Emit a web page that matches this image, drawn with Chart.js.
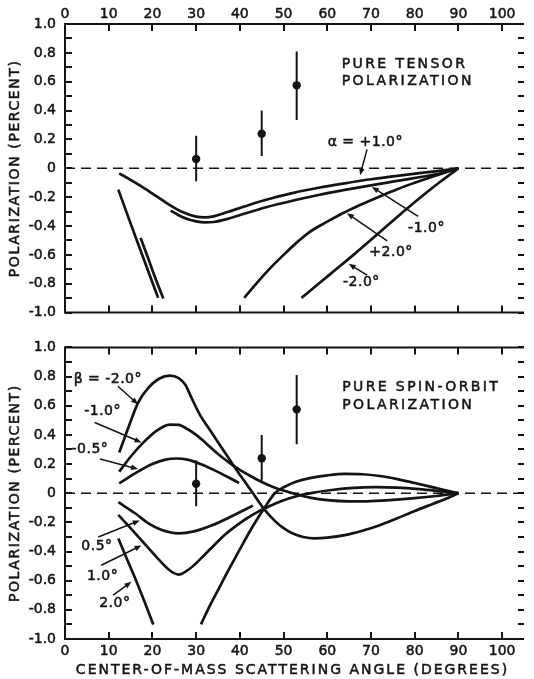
<!DOCTYPE html>
<html lang="en">
<head>
<meta charset="UTF-8" />
<title>Polarization vs center-of-mass scattering angle</title>
<script src="https://cdn.jsdelivr.net/npm/chart.js"></script>
<style>
  html,body{margin:0;padding:0;background:#fff;}
  .panel{position:absolute;left:0;width:534px;}
  #top{top:0;height:330px;}
  #bottom{top:330px;height:349px;}
</style>
</head>
<body>
<div class="panel" id="top"><canvas id="tensorChart" width="534" height="330"></canvas></div>
<div class="panel" id="bottom"><canvas id="spinChart" width="534" height="349"></canvas></div>

<script>
/* ---------- axes ---------- */
const xTicks = [0,10,20,30,40,50,60,70,80,90,100];
const yTicks = [-1.0,-0.9,-0.8,-0.7,-0.6,-0.5,-0.4,-0.3,-0.2,-0.1,0,0.1,0.2,0.3,0.4,0.5,0.6,0.7,0.8,0.9,1.0];
const zeroLineX = [0,105];

/* ---------- measured points (same in both panels) ---------- */
const dataAngle = [30,45,53];
const dataPol   = [0.065,0.24,0.575];
const dataHigh  = [0.225,0.40,0.81];
const dataLow   = [-0.09,0.085,0.335];

/* ---------- pure tensor curves [angle, polarization] ---------- */
const tensAlphaP1 = [[12.4,-0.035],[15,-0.08],[18,-0.135],[21,-0.195],[24,-0.255],[27,-0.305],[30,-0.335],[32,-0.34],[34,-0.333],[37,-0.305],[41,-0.265],[46,-0.218],[52,-0.172],[58,-0.135],[64,-0.104],[70,-0.076],[76,-0.052],[82,-0.03],[86,-0.016],[90,0]];
const tensAlphaM1 = [[24.2,-0.293],[26,-0.325],[28,-0.352],[30,-0.368],[32,-0.375],[34,-0.372],[37,-0.352],[41,-0.315],[46,-0.27],[52,-0.225],[58,-0.185],[64,-0.15],[70,-0.118],[76,-0.087],[82,-0.057],[86,-0.035],[90,0]];
const tensAlphaP2 = [[41,-0.898],[44,-0.79],[47,-0.69],[50,-0.6],[53,-0.515],[56,-0.44],[60,-0.37],[64,-0.305],[68,-0.248],[72,-0.195],[76,-0.145],[80,-0.1],[84,-0.058],[87,-0.028],[90,0]];
const tensAlphaM2 = [[54.1,-0.898],[58,-0.8],[62,-0.7],[66,-0.6],[70,-0.495],[74,-0.39],[78,-0.285],[82,-0.185],[86,-0.09],[90,0]];
const tensLeftA   = [[12.2,-0.148],[14.5,-0.34],[16.8,-0.53],[19,-0.71],[21.3,-0.898]];
const tensLeftB   = [[17.3,-0.482],[19.1,-0.63],[20.9,-0.78],[22.5,-0.902]];

/* ---------- pure spin-orbit curves [angle, polarization] ---------- */
const spinM2  = [[12.4,0.279],[14.5,0.45],[16.7,0.62],[19,0.72],[21.5,0.785],[24,0.807],[26,0.79],[27.5,0.745],[29,0.65],[31,0.53],[33,0.44],[35,0.35],[37,0.26],[39,0.17],[41,0.085],[43,0.0],[45.5,-0.107],[48,-0.19],[50,-0.24],[52,-0.275],[54.5,-0.3],[57,-0.31],[60,-0.305],[64,-0.288],[68,-0.258],[72,-0.22],[76,-0.172],[80,-0.122],[84,-0.075],[87,-0.04],[90,0]];
const spinM1  = [[12.4,0.147],[15,0.25],[18,0.35],[21,0.43],[24,0.47],[26,0.468],[28,0.44],[30,0.4],[32,0.35],[34,0.295],[36,0.245],[38,0.2],[40,0.16],[42,0.125],[44,0.092],[46,0.063],[48,0.038],[50,0.018],[53,-0.008],[56,-0.03],[60,-0.048],[65,-0.056],[70,-0.054],[75,-0.046],[80,-0.034],[85,-0.019],[90,0]];
const spinM05 = [[12.4,0.068],[16.2,0.139],[20,0.2],[23,0.23],[25.5,0.238],[28,0.23],[31,0.2],[34,0.16],[37,0.115],[39.8,0.07]];
const spinP05 = [[12.2,-0.062],[16.2,-0.141],[19,-0.205],[22,-0.25],[26,-0.275],[29.5,-0.262],[33.5,-0.222],[38,-0.16],[43,-0.085]];
const spinP1  = [[12.2,-0.149],[15,-0.24],[18,-0.34],[21,-0.44],[24,-0.53],[26,-0.558],[28,-0.53],[30,-0.48],[32,-0.42],[34,-0.36],[36,-0.3],[38,-0.25],[40,-0.205],[42,-0.165],[44,-0.13],[45.5,-0.107],[48,-0.072],[51,-0.038],[54,-0.012],[57,0.005],[61,0.022],[66,0.036],[71,0.041],[76,0.038],[81,0.028],[86,0.013],[90,0]];
const spinP2L = [[12.2,-0.31],[14,-0.44],[16.3,-0.602],[18.2,-0.745],[20.2,-0.901]];
const spinP2R = [[31.1,-0.9],[33,-0.78],[35,-0.665],[37,-0.55],[39,-0.44],[41,-0.33],[43,-0.225],[45.5,-0.107],[48,0.0],[50.5,0.048],[53,0.08],[56,0.103],[60,0.122],[64,0.132],[68,0.13],[72,0.118],[76,0.097],[80,0.07],[84,0.042],[87,0.02],[90,0]];

/* ---------- look ---------- */
const INK  = '#141414';
const FONT = '"DejaVu Sans", sans-serif';

const pts = a => a.map(([x,y]) => ({x, y}));
const curve = a => ({data:pts(a), showLine:true, borderColor:INK, borderWidth:2.7,
                     pointRadius:0, cubicInterpolationMode:'monotone', fill:false});
const zeroLine = () => ({data:zeroLineX.map(x => ({x, y:0})), showLine:true, borderColor:INK,
                         borderWidth:1.6, borderDash:[10,6], pointRadius:0});
const measured = () => ({data:dataAngle.map((x,i) => ({x, y:dataPol[i]})), showLine:false,
                         pointRadius:4.2, pointBackgroundColor:INK, pointBorderWidth:0});

function yLabel(v){
  const t = Math.round(v*10);
  if (t % 2) return '';
  return t === 0 ? '0' : (t/10).toFixed(1);
}

function spaced(ctx, s, x, y, size, spacing, align){
  ctx.save();
  ctx.font = `${size}px ${FONT}`;
  ctx.letterSpacing = spacing + 'px';
  ctx.fillStyle = INK;
  ctx.strokeStyle = INK;
  ctx.lineWidth = 0.5;
  ctx.textBaseline = 'middle';
  ctx.textAlign = align || 'center';
  ctx.fillText(s, x, y);
  ctx.strokeText(s, x, y);
  ctx.restore();
}

function arrow(ctx, x1, y1, x2, y2){
  const a = Math.atan2(y2-y1, x2-x1), L = 7, W = 2.8;
  ctx.beginPath();
  ctx.moveTo(x1, y1);
  ctx.lineTo(x2 - Math.cos(a)*L*0.6, y2 - Math.sin(a)*L*0.6);
  ctx.lineWidth = 1.5;
  ctx.stroke();
  ctx.beginPath();
  ctx.moveTo(x2, y2);
  ctx.lineTo(x2 - L*Math.cos(a) + W*Math.sin(a), y2 - L*Math.sin(a) - W*Math.cos(a));
  ctx.lineTo(x2 - L*Math.cos(a) - W*Math.sin(a), y2 - L*Math.sin(a) + W*Math.cos(a));
  ctx.closePath();
  ctx.fill();
}

/* frame, inward ticks, error bars, labels */
function decor(cfg){
  return {
    id:'decor',
    afterDraw(chart){
      const {ctx, chartArea:ca, scales:{x, y}} = chart;
      ctx.save();
      ctx.strokeStyle = INK; ctx.fillStyle = INK;

      // frame (no right edge, as in the print)
      ctx.lineWidth = 2;
      ctx.beginPath();
      ctx.moveTo(ca.right, ca.top); ctx.lineTo(ca.left, ca.top);
      ctx.lineTo(ca.left, ca.bottom); ctx.lineTo(ca.right, ca.bottom);
      ctx.stroke();

      // inward ticks
      ctx.beginPath();
      yTicks.forEach(v => {
        const py = Math.round(y.getPixelForValue(v));
        ctx.moveTo(ca.left, py); ctx.lineTo(ca.left + 7, py);
        ctx.moveTo(ca.right - 6, py); ctx.lineTo(ca.right, py);
      });
      xTicks.slice(1).forEach(v => {
        const px = Math.round(x.getPixelForValue(v));
        ctx.moveTo(px, ca.top); ctx.lineTo(px, ca.top + 7);
        ctx.moveTo(px, ca.bottom); ctx.lineTo(px, ca.bottom - 7);
      });
      ctx.stroke();

      // error bars
      ctx.lineWidth = 2;
      ctx.beginPath();
      dataAngle.forEach((a, i) => {
        const px = x.getPixelForValue(a);
        ctx.moveTo(px, y.getPixelForValue(dataHigh[i]));
        ctx.lineTo(px, y.getPixelForValue(dataLow[i]));
      });
      ctx.stroke();

      // curve labels and arrows
      cfg.labels.forEach(l => spaced(ctx, l.text, x.getPixelForValue(l.x), y.getPixelForValue(l.y), 14, 0.5));
      cfg.arrows.forEach(a => arrow(ctx, x.getPixelForValue(a[0]), y.getPixelForValue(a[1]),
                                         x.getPixelForValue(a[2]), y.getPixelForValue(a[3])));
      cfg.header.forEach((h, i) => spaced(ctx, h, x.getPixelForValue(cfg.headerX),
                                          y.getPixelForValue(cfg.headerY[i]), 14, 2.4, 'left'));

      // axis titles
      ctx.save();
      ctx.translate(15, (ca.top + ca.bottom) / 2);
      ctx.rotate(-Math.PI/2);
      spaced(ctx, 'POLARIZATION (PERCENT)', 0, 0, 14, 1.6);
      ctx.restore();
      if (cfg.xTitle) spaced(ctx, cfg.xTitle, (ca.left + ca.right) / 2 - 2, chart.height - 9, 14, 2);

      ctx.restore();
    }
  };
}

function options(xPos, pad){
  const tickFont = {color:INK, font:{family:FONT, size:14}, textStrokeColor:INK, textStrokeWidth:0.5};
  return {
    responsive:false, animation:false, events:[],
    layout:{padding:pad},
    plugins:{legend:{display:false}, tooltip:{enabled:false}},
    scales:{
      x:{type:'linear', position:xPos, min:0, max:105,
         afterBuildTicks:s => { s.ticks = xTicks.map(v => ({value:v})); },
         afterFit:s => { s.height = xPos === 'top' ? 24 : 40; },
         grid:{display:false, drawTicks:false}, border:{display:false},
         ticks:{...tickFont, padding:xPos === 'top' ? 1 : 4, maxRotation:0, autoSkip:false}},
      y:{type:'linear', min:-1, max:1,
         afterBuildTicks:s => { s.ticks = yTicks.map(v => ({value:v})); },
         afterFit:s => { s.width = 65; },
         grid:{display:false, drawTicks:false}, border:{display:false},
         ticks:{...tickFont, padding:9, autoSkip:false, callback:v => yLabel(v)}}
    }
  };
}

/* ---------- top: pure tensor ---------- */
new Chart(document.getElementById('tensorChart'), {
  type:'scatter',
  data:{datasets:[zeroLine(), curve(tensAlphaP1), curve(tensAlphaM1), curve(tensAlphaP2),
                  curve(tensAlphaM2), curve(tensLeftA), curve(tensLeftB), measured()]},
  options:options('top', {left:0, right:10, top:0, bottom:12}),
  plugins:[decor({
    labels:[{text:'α = +1.0°', x:68.7, y:0.177}, {text:'-1.0°', x:82.7, y:-0.415},
            {text:'+2.0°', x:74.6, y:-0.585}, {text:'-2.0°', x:67.8, y:-0.789}],
    arrows:[[69.1,0.131,67.5,-0.048],[80.8,-0.333,70.2,-0.129],
            [73.7,-0.503,64.5,-0.311],[69.1,-0.741,64.9,-0.662]],
    header:['PURE TENSOR','POLARIZATION'], headerX:63.3, headerY:[0.72,0.605]
  })]
});

/* ---------- bottom: pure spin-orbit ---------- */
new Chart(document.getElementById('spinChart'), {
  type:'scatter',
  data:{datasets:[zeroLine(), curve(spinM2), curve(spinM1), curve(spinM05), curve(spinP05),
                  curve(spinP1), curve(spinP2L), curve(spinP2R), measured()]},
  options:options('bottom', {left:0, right:10, top:17, bottom:0}),
  plugins:[decor({
    labels:[{text:'β = -2.0°', x:9.8, y:0.78}, {text:'-1.0°', x:8.6, y:0.564},
            {text:'-0.5°', x:5.7, y:0.302}, {text:'0.5°', x:7.3, y:-0.367},
            {text:'1.0°', x:8.6, y:-0.571}, {text:'2.0°', x:11.4, y:-0.756}],
    arrows:[[12.1,0.734,16.7,0.61],[6.8,0.485,17.5,0.348],[8.0,0.234,16.7,0.166],
            [7.6,-0.30,17.1,-0.187],[8.3,-0.494,17.5,-0.358],[11.0,-0.699,15.2,-0.608]],
    header:['PURE SPIN-ORBIT','POLARIZATION'], headerX:63.4, headerY:[0.726,0.603],
    xTitle:'CENTER-OF-MASS SCATTERING ANGLE (DEGREES)'
  })]
});
</script>
</body>
</html>
